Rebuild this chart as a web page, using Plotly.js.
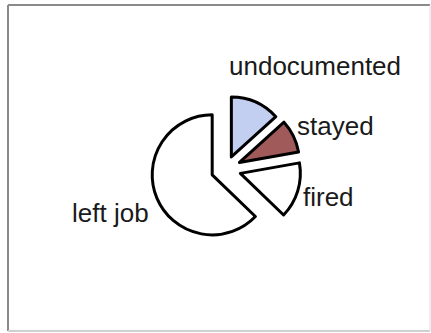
<!DOCTYPE html>
<html>
<head>
<meta charset="utf-8">
<script src="https://cdn.plot.ly/plotly-3.0.1.min.js"></script>
<style>html,body{margin:0;padding:0;background:#fff;}#chart{width:431px;height:333px;}</style>
</head>
<body>
<div id="chart"></div>
<script>
const labels = ["undocumented", "stayed", "fired", "left job"];
const values = [13.3, 8.9, 15.0, 62.8];
const colors = ["#c3cff0", "#a05a5a", "#ffffff", "#ffffff"];

const labelPos = [[315, 66], [335, 126], [328, 197], [111, 213]];

const W = 431, H = 333;
const annotations = labels.map((t, i) => ({
  text: t, xref: "paper", yref: "paper",
  x: labelPos[i][0] / W, y: 1 - labelPos[i][1] / H,
  xanchor: "center", yanchor: "middle", showarrow: false,
  font: {family: "Liberation Sans, Arial, sans-serif", size: 26, color: "#1a1a1a"}
}));

const trace = {
  type: "pie", labels: labels, values: values, sort: false,
  direction: "clockwise", rotation: 0,
  pull: [0.22, 0.25, 0.25, 0.25],
  marker: {colors: colors, line: {color: "#000", width: 3}},
  textinfo: "none", hoverinfo: "none", showlegend: false,
  domain: {x: [151 / W, 301 / W], y: [1 - 244 / H, 1 - 94 / H]}
};

const layout = {
  width: W, height: H, margin: {l: 0, r: 0, t: 0, b: 0},
  paper_bgcolor: "#fff", plot_bgcolor: "#fff",
  annotations: annotations,
  shapes: [
    {type: "line", xref: "paper", yref: "paper", x0: 8 / W, x1: 8 / W, y0: 1 - 331 / H, y1: 1 - 5 / H, line: {color: "#8a8a8a", width: 2}},
    {type: "line", xref: "paper", yref: "paper", x0: 8 / W, x1: 430 / W, y0: 1 - 5 / H, y1: 1 - 5 / H, line: {color: "#8a8a8a", width: 2}},
    {type: "line", xref: "paper", yref: "paper", x0: 8 / W, x1: 430 / W, y0: 1 - 331 / H, y1: 1 - 331 / H, line: {color: "#d0d0d0", width: 2}},
    {type: "line", xref: "paper", yref: "paper", x0: 430 / W, x1: 430 / W, y0: 1 - 331 / H, y1: 1 - 5 / H, line: {color: "#e0e0e0", width: 1}}
  ]
};

Plotly.newPlot("chart", [trace], layout, {staticPlot: true, displayModeBar: false});
</script>
</body>
</html>
